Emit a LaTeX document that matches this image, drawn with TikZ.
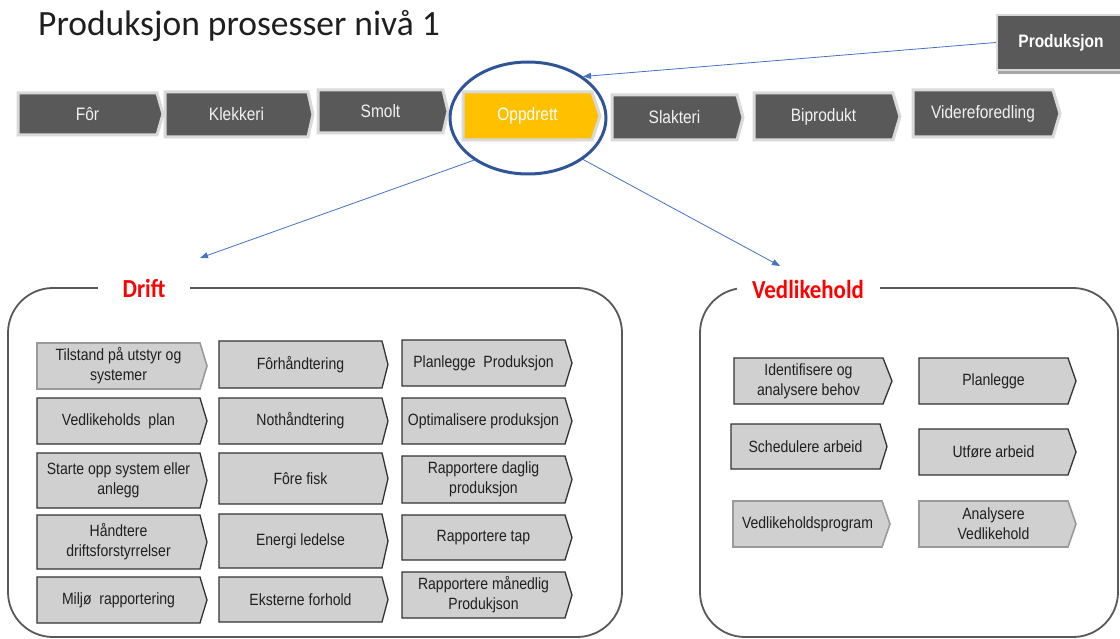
\documentclass[tikz,border=0pt]{standalone}
\usepackage{fontspec}
\setmainfont[FakeStretch=0.86]{Liberation Sans}
\newfontfamily\calibri{Carlito}
\newfontfamily\labelfont[FakeStretch=0.88]{Carlito}
\usetikzlibrary{shapes.geometric,arrows.meta,shadows}

\definecolor{darkbox}{HTML}{595959}
\definecolor{lightedge}{HTML}{D9D9D9}
\definecolor{gold}{HTML}{FFC000}
\definecolor{ringblue}{HTML}{2F5597}
\definecolor{linkblue}{HTML}{4472C4}
\definecolor{stepfill}{HTML}{D0D0D0}
\definecolor{stepedge}{HTML}{333333}
\definecolor{paleedge}{HTML}{9A9A9A}
\definecolor{framegray}{HTML}{595959}
\definecolor{labelred}{HTML}{FF0000}

\tikzset{
  topchev/.style={fill=darkbox, draw=lightedge, line width=3pt, line join=miter},
  goldchev/.style={fill=gold, draw=lightedge, line width=3pt, line join=miter},
  toptext/.style={text=white!95!black, inner sep=0, font=\fontsize{18}{20}\selectfont},
  stepchev/.style={fill=stepfill, draw=stepedge, line width=1.3pt, line join=miter},
  palechev/.style={fill=stepfill, draw=paleedge, line width=1.6pt, line join=miter},
  steptext/.style={text=black!88, inner sep=0, align=center, font=\fontsize{16.3}{20}\selectfont},
  groupframe/.style={draw=framegray, line width=1.8pt, rounded corners=45pt},
  grouplabel/.style={fill=white, text=labelred, inner sep=0, minimum height=22pt,
    font=\labelfont\bfseries\fontsize{26}{28}\selectfont},
  prodbox/.style={fill=darkbox, draw=lightedge, line width=2.5pt, text=white,
    minimum width=128pt, minimum height=55pt, inner sep=0,
    font=\bfseries\fontsize{18}{20}\selectfont,
    drop shadow={shadow xshift=1pt, shadow yshift=-4pt, opacity=.35, fill=black}},
  ring/.style={draw=ringblue, line width=3pt, ellipse, inner sep=0,
    minimum width=156pt, minimum height=112pt},
  link/.style={draw=linkblue, line width=0.8pt, -{Triangle[length=8pt,width=6pt]}}
}

% #1 outline style, #2 text style, #3 node name, #4 left, #5 body end,
% #6 tip, #7 top, #8 bottom, #9 label
\newcommand\chevbox[9]{%
  \path[#1] (#4,#7) -- (#5,#7) -- (#6,{(#7+#8)/2}) -- (#5,#8) -- (#4,#8) -- cycle;
  \node[#2] (#3) at ({(#4+#5)/2},{(#7+#8)/2}) {#9};}

\begin{document}
\begin{tikzpicture}[x=1pt,y=-1pt]
\useasboundingbox[fill=white] (0,0) rectangle (1120,639);

% heading
\node[anchor=base west, inner sep=0, text=black!88,
  font=\calibri\fontsize{35.5}{40}\selectfont] (title) at (38,36)
  {Produksjon prosesser nivå 1};

% value chain
\chevbox{topchev}{toptext}{foer}{18}{157}{163}{93}{135}{Fôr}
\chevbox{topchev}{toptext}{klekkeri}{165}{308}{313}{92}{137}{Klekkeri}
\chevbox{topchev}{toptext}{smolt}{318}{443}{448}{90}{133}{Smolt}
\chevbox{goldchev}{toptext,text=white}{oppdrett}{463}{592}{600}{92}{140}{Oppdrett}
\chevbox{topchev}{toptext}{slakteri}{612}{737}{743}{95}{140}{Slakteri}
\chevbox{topchev}{toptext}{biprodukt}{754}{893}{900}{93}{140}{Biprodukt}
\chevbox{topchev}{toptext}{videre}{913}{1053}{1060}{90}{137}{Videreforedling}

\node[prodbox] (prod) at (1061,42.5) {Produksjon};

\node[ring] (ring) at (528,118) {};

% group frames
\draw[groupframe] (8,288) rectangle (622,637);
\draw[groupframe] (700,288) rectangle (1118,637);
\node[grouplabel, minimum width=92pt] (drift) at (144,288) {Drift};
\node[grouplabel, minimum width=143pt] (vedlikehold) at (808,289) {Vedlikehold};

% links
\coordinate (driftend) at (200,258);
\coordinate (vedend) at (780,266);
\draw[link] (prod.west) -- (ring.37);
\draw[link] (ring.218) -- (driftend);
\draw[link] (ring.323) -- (vedend);

% Drift steps
\chevbox{palechev}{steptext}{d11}{37}{200}{207}{343}{389}{Tilstand på utstyr og\\systemer}
\chevbox{stepchev}{steptext}{d12}{37}{200}{207}{398}{444}{Vedlikeholds\ \ plan}
\chevbox{stepchev}{steptext}{d13}{37}{200}{207}{453}{508}{Starte opp system eller\\anlegg}
\chevbox{stepchev}{steptext}{d14}{37}{200}{207}{515}{569}{Håndtere\\driftsforstyrrelser}
\chevbox{stepchev}{steptext}{d15}{37}{200}{207}{577}{623}{Miljø\ \ rapportering}

\chevbox{stepchev}{steptext}{d21}{219}{382}{388}{341}{388}{Fôrhåndtering}
\chevbox{stepchev}{steptext}{d22}{219}{382}{388}{398}{444}{Nothåndtering}
\chevbox{stepchev}{steptext}{d23}{219}{382}{388}{453}{504}{Fôre fisk}
\chevbox{stepchev}{steptext}{d24}{219}{382}{388}{514}{568}{Energi ledelse}
\chevbox{stepchev}{steptext}{d25}{219}{382}{388}{577}{622}{Eksterne forhold}

\chevbox{stepchev}{steptext}{d31}{402}{565}{572}{340}{386}{Planlegge\ \ Produksjon}
\chevbox{stepchev}{steptext}{d32}{402}{565}{572}{398}{444}{Optimalisere produksjon}
\chevbox{stepchev}{steptext}{d33}{402}{565}{572}{456}{503}{Rapportere daglig\\produksjon}
\chevbox{stepchev}{steptext}{d34}{402}{565}{572}{515}{560}{Rapportere tap}
\chevbox{stepchev}{steptext}{d35}{402}{565}{572}{572}{618}{Rapportere månedlig\\Produkjson}

% Vedlikehold steps
\chevbox{stepchev}{steptext}{v1}{734}{883}{892}{358}{404}{Identifisere og\\analysere behov}
\chevbox{stepchev}{steptext}{v2}{919}{1068}{1076}{358}{404}{Planlegge}
\chevbox{stepchev}{steptext}{v3}{731}{880}{887}{424}{469}{Schedulere arbeid}
\chevbox{stepchev}{steptext}{v4}{919}{1068}{1076}{429}{475}{Utføre arbeid}
\chevbox{palechev}{steptext}{v5}{733}{882}{890}{501}{547}{Vedlikeholdsprogram}
\chevbox{palechev}{steptext}{v6}{919}{1068}{1076}{501}{547}{Analysere\\Vedlikehold}
\end{tikzpicture}
\end{document}
